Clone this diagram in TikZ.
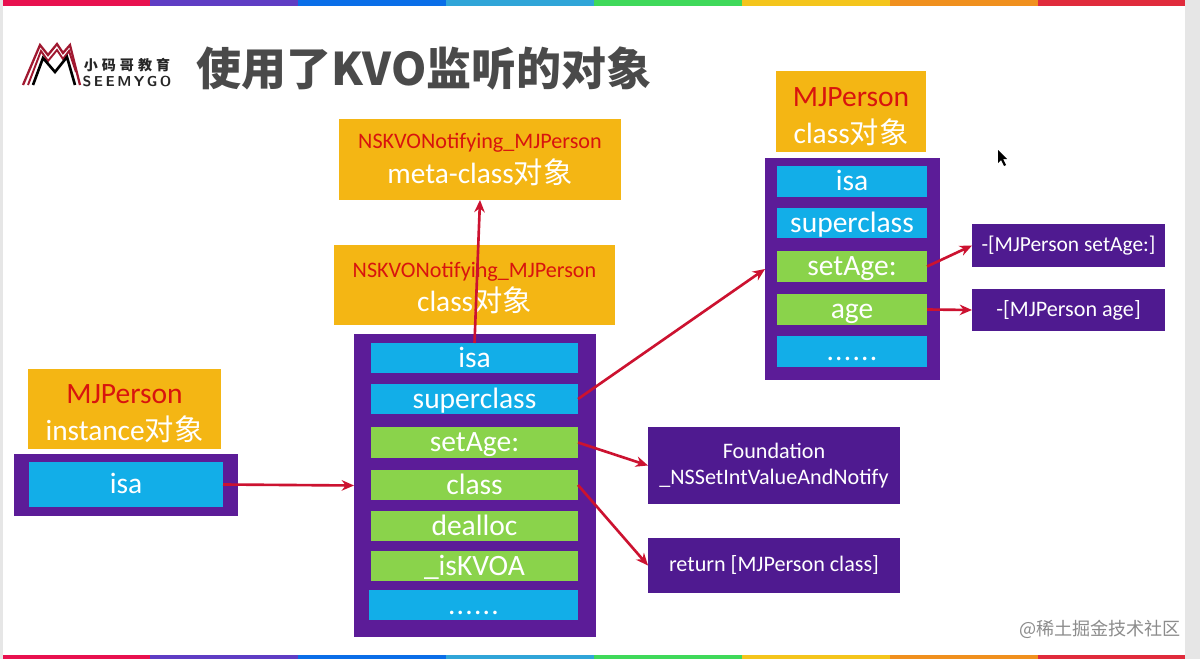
\documentclass[tikz,border=0pt]{standalone}
\usepackage{fontspec}
\setmainfont{Carlito}
\newfontfamily\cjk{Noto Sans CJK SC}
\usetikzlibrary{arrows.meta}
\definecolor{ybox}{HTML}{F4B614}
\definecolor{bcell}{HTML}{12AEE8}
\definecolor{gcell}{HTML}{8AD34B}
\definecolor{pframe}{HTML}{5C1C98}
\definecolor{pmsg}{HTML}{4F1A90}
\definecolor{redarrow}{HTML}{CC1230}
\definecolor{redtext}{HTML}{D8140E}
\definecolor{titlegray}{HTML}{4A4A4A}
\definecolor{sidegray}{HTML}{E6E6E6}
\definecolor{logored}{HTML}{A01830}
\tikzset{
  x=0.02cm,y=-0.02cm,
  base/.style={inner sep=0pt,outer sep=0pt,align=center,text=white},
  ybx/.style={base,fill=ybox},
  frame/.style={base,fill=pframe},
  bluecell/.style={base,fill=bcell,font=\fontsize{16.8}{19}\selectfont,text height=13.9pt,text depth=3.1pt},
  greencell/.style={base,fill=gcell,font=\fontsize{16.8}{19}\selectfont,text height=13.9pt,text depth=3.1pt},
  msg/.style={base,fill=pmsg,font=\fontsize{12.6}{15}\selectfont},
  link/.style={draw=redarrow,line width=1.5pt,-{Stealth[length=7pt,width=6pt]}}
}
\newcommand{\pxbox}[7]{%
  \pgfmathsetmacro{\pw}{(#4-#2)*0.02}%
  \pgfmathsetmacro{\ph}{(#5-#3)*0.02}%
  \pgfmathsetmacro{\pcx}{(#4+#2)/2}%
  \pgfmathsetmacro{\pcy}{(#5+#3)/2}%
  \node[#6,minimum width=\pw cm,minimum height=\ph cm] (#1) at (\pcx,\pcy) {#7};}
\newcommand{\redl}[1]{{\color{redtext}#1}}
\newcommand{\yszb}{\fontsize{16.7}{19}\selectfont}
\newcommand{\yszc}{\fontsize{12.6}{15}\selectfont}
\newcommand{\yszm}{\fontsize{16.8}{19}\selectfont}
\begin{document}
\begin{tikzpicture}
\useasboundingbox (0,0) rectangle (1200,659);
\fill[white] (0,0) rectangle (1200,659);
\fill[sidegray] (1185,0) rectangle (1200,659);
\fill[sidegray] (0,0) rectangle (3,659);
% colour bands
\foreach \a/\b/\c in {3/150/E8114F,150/298/5F3DC4,298/446/0A6EE8,446/594/30A5D8,594/742/3FD95A,742/890/F4C51C,890/1038/F0901E,1038/1185/E02B3C}{
  \definecolor{bandc}{HTML}{\c}
  \fill[bandc] (\a,0) rectangle (\b,6);
  \fill[bandc] (\a,655) rectangle (\b,659);
}
% logo
\draw[logored,line width=1.3pt,line join=miter] (23,85)--(40,45)--(48,55)--(57,44)--(63,53)--(70,45)--(80,85);
\draw[logored,line width=1.1pt,line join=miter] (28,85)--(41,51)--(48,61)--(57,50)--(63,59)--(69,51)--(76,72);
\draw[black,line width=1.5pt,line join=miter] (33,85)--(43,58)--(55,72)--(67,57)--(75,85);
\node[inner sep=0pt,text=black!85,font=\cjk\bfseries\fontsize{8}{10}\selectfont] (logoa) at (127,65) {小\hspace{2.3pt}码\hspace{2.3pt}哥\hspace{2.3pt}教\hspace{2.3pt}育};
\node[inner sep=0pt,text=black!85,font=\sffamily\bfseries\fontsize{8.2}{10}\selectfont] (logob) at (127,81) {S\hspace{1.4pt}E\hspace{1.4pt}E\hspace{1.4pt}M\hspace{1.4pt}Y\hspace{1.4pt}G\hspace{1.4pt}O};
% title
\node[inner sep=0pt,text=titlegray,font=\cjk\bfseries\fontsize{25.6}{30}\selectfont] (title) at (424,69) {使用了KVO监听的对象};
% middle column
\pxbox{meta}{339}{119}{621}{200}{ybx}{{\yszc\redl{NSKVONotifying\_MJPerson}}\\[2.7pt]{\yszb meta-class{\cjk 对象}}}
\pxbox{cobj}{334}{245}{615}{325}{ybx}{{\yszc\redl{\rule{0pt}{12pt}NSKVONotifying\_MJPerson}}\\[2pt]{\yszb class{\cjk 对象}}}
\pxbox{main}{354}{334}{596}{637}{frame}{}
\pxbox{misa}{371}{343}{578}{373}{bluecell}{isa}
\pxbox{msuper}{371}{384}{578}{414}{bluecell}{superclass}
\pxbox{mset}{371}{427}{578}{458}{greencell}{setAge:}
\pxbox{mclass}{371}{470}{578}{500}{greencell}{class}
\pxbox{mdealloc}{371}{511}{578}{541}{greencell}{dealloc}
\pxbox{mkvoa}{371}{551}{578}{581}{greencell}{\_isKVOA}
\pxbox{mdots}{369}{590}{578}{620}{bluecell}{.\hspace{0.7pt}.\hspace{0.7pt}.\hspace{0.7pt}.\hspace{0.7pt}.\hspace{0.7pt}.}
% instance
\pxbox{iobj}{28}{369}{221}{449}{ybx}{{\redl{\yszm\rule{0pt}{16pt}MJPerson}}\\[6pt]{\yszb instance{\cjk 对象}}}
\pxbox{iframe}{14}{454}{238}{516}{frame}{}
\pxbox{iisa}{29}{462}{223}{507}{bluecell}{isa}
% right column
\pxbox{robj}{776}{71}{926}{152}{ybx}{{\redl{\yszm\rule{0pt}{16.5pt}MJPerson}}\\[6pt]{\yszb class{\cjk 对象}}}
\pxbox{rframe}{765}{158}{940}{380}{frame}{}
\pxbox{risa}{777}{166}{927}{197}{bluecell}{isa}
\pxbox{rsuper}{777}{208}{927}{238}{bluecell}{superclass}
\pxbox{rset}{777}{251}{927}{282}{greencell}{setAge:}
\pxbox{rage}{777}{294}{927}{325}{greencell}{age}
\pxbox{rdots}{777}{336}{927}{367}{bluecell}{.\hspace{0.7pt}.\hspace{0.7pt}.\hspace{0.7pt}.\hspace{0.7pt}.\hspace{0.7pt}.}
% method boxes
\pxbox{msetm}{972}{224}{1165}{267}{msg}{\fontsize{12.2}{15}\selectfont -[MJPerson setAge:]}
\pxbox{magem}{972}{289}{1165}{331}{msg}{-[MJPerson age]}
\pxbox{found}{648}{427}{900}{504}{msg}{Foundation\\[0pt]\_NSSetIntValueAndNotify}
\pxbox{retm}{648}{538}{900}{593}{msg}{return [MJPerson class]}
% connectors
\draw[link] (misa.north) -- (meta.south);
\draw[link] (iisa.east) -- (main.west);
\draw[link] (msuper.east) -- (rframe.west);
\draw[link] (mset.east) -- (found.west);
\draw[link] (mclass.east) -- (retm.west);
\draw[link] (rset.east) -- (msetm.west);
\draw[link] (rage.east) -- (magem.west);
% cursor
\fill[black] (998,150) -- (998,163) -- (1001,160) -- (1004,166) -- (1006,165) -- (1003,159) -- (1007,159) -- cycle;
% watermark
\node[inner sep=0pt,text=black!45,font=\cjk\fontsize{10.3}{12}\selectfont] (wm) at (1100,629) {@稀土掘金技术社区};
\end{tikzpicture}
\end{document}
